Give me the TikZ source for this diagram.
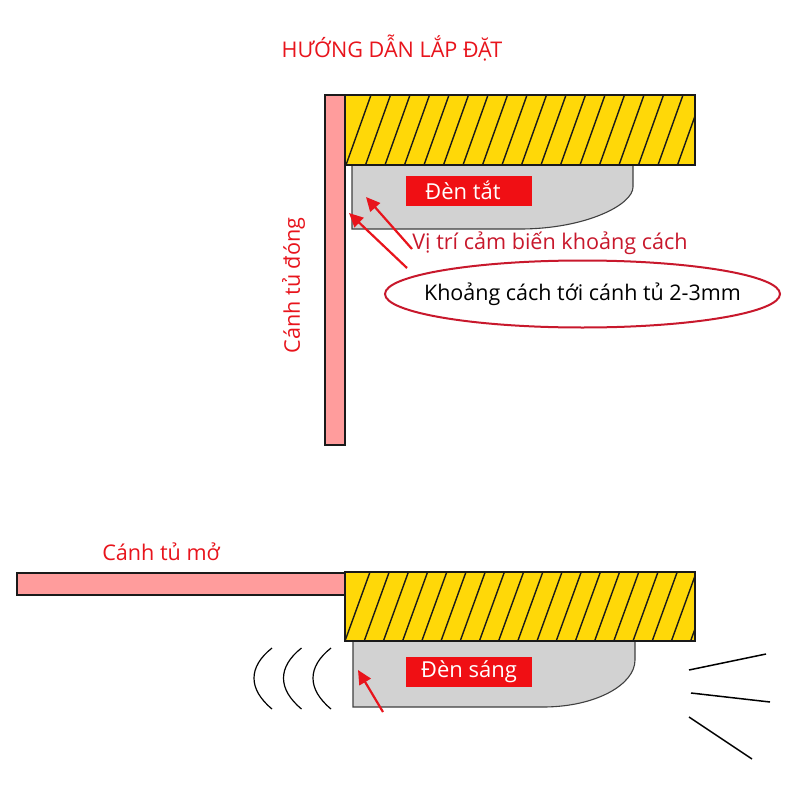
\documentclass[tikz,border=0pt]{standalone}
\usepackage{fontspec}
\setmainfont{Open Sans}
\usetikzlibrary{arrows.meta,shapes.geometric}
\definecolor{woodY}{HTML}{FFD808}
\definecolor{doorP}{HTML}{FF9C9C}
\definecolor{lampG}{HTML}{D2D2D2}
\definecolor{lineK}{HTML}{1A1A1A}
\definecolor{redT}{HTML}{E8141C}
\definecolor{redD}{HTML}{C8182C}
\definecolor{redB}{HTML}{F00F14}
\tikzset{
  wood/.style={fill=woodY,draw=none},
  woodedge/.style={draw=lineK,line width=1.9pt},
  hatchline/.style={draw=lineK,line width=1.4pt},
  door/.style={fill=doorP,draw=lineK,line width=1.9pt},
  lamp/.style={fill=lampG,draw=black!75,line width=1.1pt},
  tag/.style={fill=redB,text=white,font=\fontsize{22}{22}\selectfont,minimum width=126pt,minimum height=30pt,inner sep=0pt},
  redlabel/.style={text=redT,inner sep=0pt,font=\fontsize{21.6}{21.6}\selectfont},
  ptr/.style={draw=redT,line width=2.2pt,-{Triangle[length=14pt,width=13pt]}},
  wave/.style={draw=black,line width=1.2pt},
  ray/.style={draw=black,line width=1.5pt}
}
\begin{document}
\begin{tikzpicture}[x=1pt,y=-1pt]
\useasboundingbox (0,0) rectangle (800,800);
\fill[white] (0,0) rectangle (800,800);
\node[redlabel] (title) at (392,48) {HƯỚNG DẪN LẮP ĐẶT};
% top: closed
\draw[door] (325,95) rectangle (345,445);
\draw[lamp] (352,165) -- (352,229) -- (520,229) .. controls (585,229) and (633,205) .. (633,187) -- (633,165) -- cycle;
\fill[wood] (345,95) rectangle (695,165);
\begin{scope}
\clip (345,95) rectangle (695,165);
\foreach \i in {0,...,18} \draw[hatchline] ({346+19.5*\i},165) -- ({371+19.5*\i},95);
\end{scope}
\draw[woodedge] (345,95) rectangle (695,165);
\node[tag] (off) at (469,190.5) {\hspace*{-12pt}Đèn tắt};
\node[redlabel,text=redD] (sensor) at (550,243) {Vị trí cảm biến khoảng cách};
\node[draw=redD,line width=2pt,ellipse,minimum width=395pt,minimum height=67pt,inner sep=0pt,font=\fontsize{21.5}{21.5}\selectfont,text=black] (gap) at (582.5,294) {\makebox[0pt]{Khoảng cách tới cánh tủ 2-3mm}};
\coordinate (s1) at (412,249);
\coordinate (s1t) at (366,197);
\coordinate (g1) at (407,268);
\coordinate (g1t) at (349,213);
\draw[ptr] (s1) -- (s1t);
\draw[ptr] (g1) -- (g1t);
\node[redlabel,rotate=90] (closed) at (293.5,285.5) {Cánh tủ đóng};
% bottom: open
\node[redlabel] (opened) at (161,552) {Cánh tủ mở};
\draw[door] (17,573) rectangle (345,595);
\draw[lamp] (353,641) -- (353,707) -- (543,707) .. controls (595,707) and (635,685) .. (635,660) -- (635,641) -- cycle;
\fill[wood] (345,572) rectangle (695,641);
\begin{scope}
\clip (345,572) rectangle (695,641);
\foreach \i in {0,...,18} \draw[hatchline] ({345+19.2*\i},641) -- ({370+19.2*\i},572);
\end{scope}
\draw[woodedge] (345,572) rectangle (695,641);
\node[tag] (on) at (469,672) {Đèn sáng};
\coordinate (a) at (383,712);
\coordinate (at) at (358,670);
\draw[ptr] (a) -- (at);
\foreach \dx in {0,29.5,59} {
  \draw[wave] ({272+\dx},648) .. controls ({248+\dx},667) and ({248+\dx},689) .. ({272+\dx},709);
}
\coordinate (r1a) at (689,670); \coordinate (r1b) at (766,654);
\coordinate (r2a) at (691,693); \coordinate (r2b) at (770,702);
\coordinate (r3a) at (689,717); \coordinate (r3b) at (752,759);
\draw[ray] (r1a) -- (r1b);
\draw[ray] (r2a) -- (r2b);
\draw[ray] (r3a) -- (r3b);
\end{tikzpicture}
\end{document}
